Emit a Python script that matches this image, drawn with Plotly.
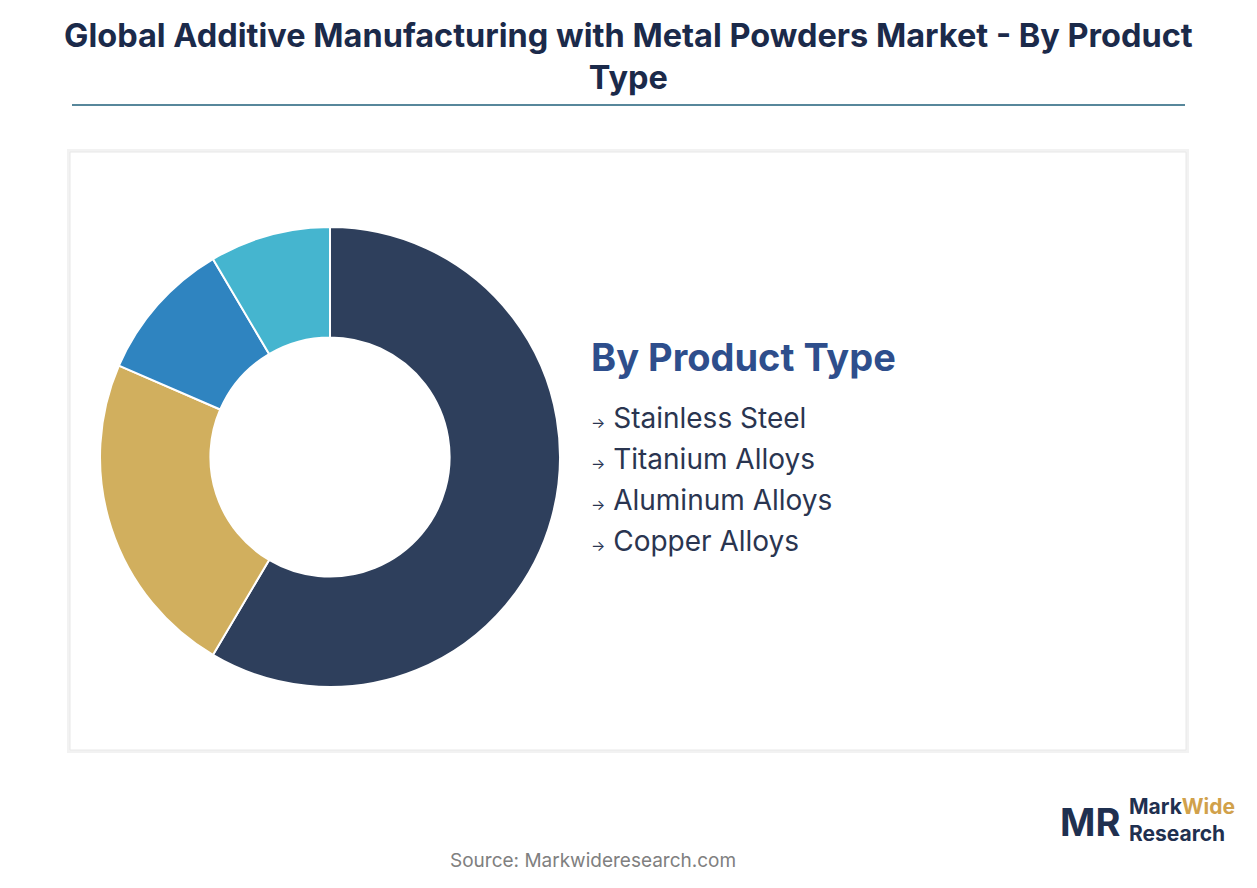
import plotly.graph_objects as go

categories = ["Stainless Steel", "Titanium Alloys", "Aluminum Alloys", "Copper Alloys"]
values = [58.5, 23, 10, 8.5]
colors = ["#2E3F5C", "#D1AF5E", "#2F84C0", "#45B5CF"]

OFF = 8
W, H = 1257 - OFF, 888 - OFF
def X(x): return (x - OFF) / W
def Y(y): return (H - (y - OFF)) / H

fig = go.Figure()
fig.add_trace(go.Pie(labels=categories, values=values, hole=0.52, sort=False,
    direction="clockwise", rotation=0, textinfo="none", hoverinfo="label+percent",
    marker=dict(colors=colors, line=dict(color="white", width=2)),
    domain=dict(x=[X(100), X(560)], y=[Y(687), Y(227)]), showlegend=False))

shapes = [
    dict(type="rect", xref="paper", yref="paper", x0=X(67), x1=X(1189), y0=Y(753), y1=Y(149),
         fillcolor="#F2F2F2", line=dict(width=0), layer="below"),
    dict(type="rect", xref="paper", yref="paper", x0=X(70), x1=X(1186), y0=Y(750), y1=Y(152),
         fillcolor="white", line=dict(color="#E8E8E8", width=1), layer="below"),
    dict(type="line", xref="paper", yref="paper", x0=X(72), x1=X(1185), y0=Y(105), y1=Y(105),
         line=dict(color="#1F5F7A", width=1.5)),
]
ann = [
    dict(text="<b>Global Additive Manufacturing with Metal Powders Market - By Product<br>Type</b>",
         x=X(628), y=Y(56), xref="paper", yref="paper", xanchor="center", yanchor="middle",
         showarrow=False, font=dict(family="Inter", size=32.5, color="#1B2A4A")),
    dict(text="<b>By Product Type</b>", x=X(589), y=Y(357), xref="paper", yref="paper",
         xanchor="left", yanchor="middle", showarrow=False,
         font=dict(family="Inter", size=38, color="#2E4E8C")),
    dict(text="Source: Markwideresearch.com", x=X(593), y=Y(860), xref="paper", yref="paper",
         xanchor="center", yanchor="middle", showarrow=False,
         font=dict(family="Inter", size=19, color="#808080")),
    dict(text="<b>MR</b>", x=X(1058), y=Y(822), xref="paper", yref="paper", xanchor="left",
         yanchor="middle", showarrow=False, font=dict(family="Inter", size=38, color="#1F3050")),
    dict(text="<b>Mark<span style='color:#D1A14A'>Wide</span><br>Research</b>", x=X(1127), y=Y(820),
         xref="paper", yref="paper", xanchor="left", yanchor="middle", align="left", showarrow=False,
         font=dict(family="Inter", size=21, color="#1F3050")),
]
for i, c in enumerate(categories):
    ann.append(dict(text="<span style='font-size:15px'>→</span> " + c, x=X(589), y=Y(418 + 41 * i),
        xref="paper", yref="paper", xanchor="left", yanchor="middle", showarrow=False,
        font=dict(family="Inter", size=28, color="#2A3550")))

fig.update_layout(width=W, height=H, margin=dict(l=0, r=0, t=0, b=0),
    paper_bgcolor="white", plot_bgcolor="white", shapes=shapes, annotations=ann)
fig.write_html("out.html")
